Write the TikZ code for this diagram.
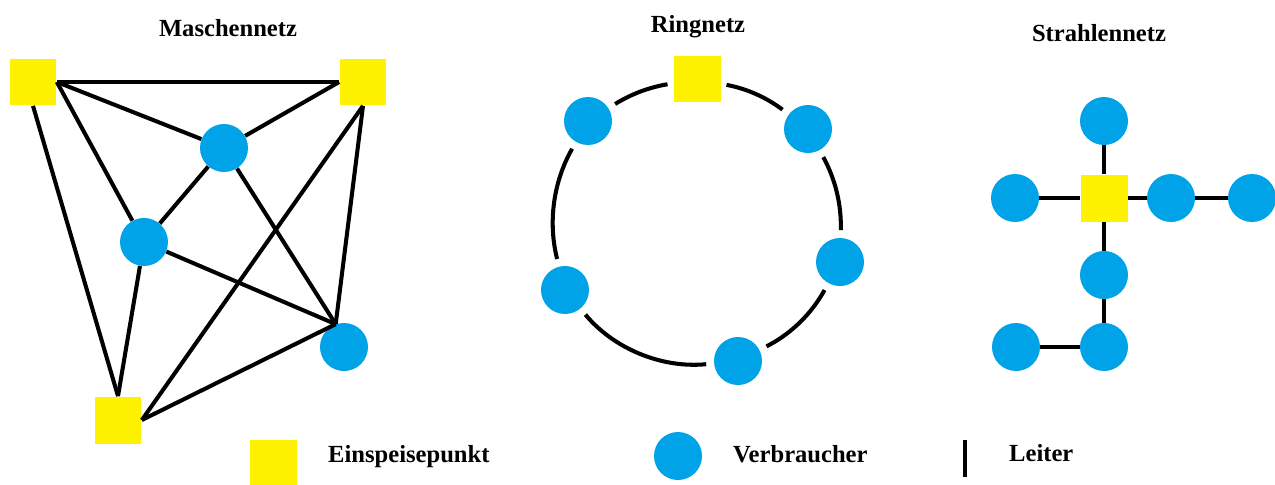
\documentclass[tikz,border=0pt]{standalone}
\usepackage{fontspec}
\setmainfont{Liberation Serif}
\definecolor{einYellow}{HTML}{FFF200}
\definecolor{verbBlue}{HTML}{00A2E8}
\begin{document}
\begin{tikzpicture}[x=0.02cm, y=-0.02cm,
  einspeis/.style={rectangle, fill=einYellow, minimum size=0.94cm, inner sep=0pt},
  verbr/.style={circle, fill=verbBlue, minimum size=0.96cm, inner sep=0pt},
  leiter/.style={line width=2.3pt},
  ringleiter/.style={leiter, looseness=0.87},
  titel/.style={font=\bfseries\fontsize{14}{16}\selectfont},
  legende/.style={font=\bfseries\fontsize{14}{16}\selectfont, anchor=west}
]
  \useasboundingbox (0,0) rectangle (1275,484);

  % Maschennetz
  \node[titel] (tmasch) at (228,28) {Maschennetz};
  \node[einspeis] (mA) at (33,82) {};
  \node[einspeis] (mB) at (363,82) {};
  \node[einspeis] (mD) at (118,420) {};
  \node[verbr] (mC1) at (224,148) {};
  \node[verbr] (mC2) at (144,242) {};
  \node[verbr] (mC3) at (344,347) {};

  \draw[leiter] (mA.east) -- (mB.west);
  \draw[leiter] (mA.east) -- (mC1);
  \draw[leiter] (mA.east) -- (mC2);
  \draw[leiter] (mA.south) -- (mD.north);
  \draw[leiter] (mB.west) -- (mC1);
  \draw[leiter] (mB.south) -- (mC3.110);
  \draw[leiter] (mB.south) -- (mD.east);
  \draw[leiter] (mC1) -- (mC2);
  \draw[leiter] (mC1) -- (mC3.110);
  \draw[leiter] (mC2) -- (mC3.110);
  \draw[leiter] (mC2) -- (mD.north);
  \draw[leiter] (mC3.110) -- (mD.east);

  % Ringnetz
  \node[titel] (tring) at (698,27) {Ringnetz};
  \node[einspeis, outer sep=0.12cm] (rS) at (697,79) {};
  \node[verbr, outer sep=0.16cm] (r1) at (808,129) {};
  \node[verbr, outer sep=0.16cm] (r2) at (840,262) {};
  \node[verbr, outer sep=0.16cm] (r3) at (738,361) {};
  \node[verbr, outer sep=0.16cm] (r4) at (565,290) {};
  \node[verbr, outer sep=0.16cm] (r5) at (588,121) {};

  \draw[ringleiter] (rS) to[bend left=13] (r1);
  \draw[ringleiter] (r1) to[bend left=15] (r2);
  \draw[ringleiter] (r2) to[bend left=17] (r3);
  \draw[ringleiter] (r3) to[bend left=28] (r4);
  \draw[ringleiter] (r4) to[bend left=22] (r5);
  \draw[ringleiter] (r5) to[bend left=11] (rS);

  % Strahlennetz
  \node[titel] (tstrahl) at (1099,33) {Strahlennetz};
  \node[einspeis] (sS) at (1104,198) {};
  \node[verbr] (sO) at (1104,121) {};
  \node[verbr] (sL) at (1015,198) {};
  \node[verbr] (sR1) at (1171,198) {};
  \node[verbr] (sR2) at (1252,198) {};
  \node[verbr] (sU1) at (1104,275) {};
  \node[verbr] (sU2) at (1104,347) {};
  \node[verbr] (sUL) at (1016,347) {};

  \draw[leiter] (sS) -- (sO);
  \draw[leiter] (sS) -- (sL);
  \draw[leiter] (sS) -- (sR1);
  \draw[leiter] (sR1) -- (sR2);
  \draw[leiter] (sS) -- (sU1);
  \draw[leiter] (sU1) -- (sU2);
  \draw[leiter] (sU2) -- (sUL);

  % Legende
  \node[einspeis] (legE) at (273.5,463.5) {};
  \node[legende] (txtE) at (322,457) {Einspeisepunkt};
  \node[verbr] (legV) at (678,456) {};
  \node[legende] (txtV) at (727,454) {Verbraucher};
  \coordinate (legL1) at (965,440);
  \coordinate (legL2) at (965,477);
  \draw[leiter] (legL1) -- (legL2);
  \node[legende] (txtL) at (1003,453) {Leiter};
\end{tikzpicture}
\end{document}
